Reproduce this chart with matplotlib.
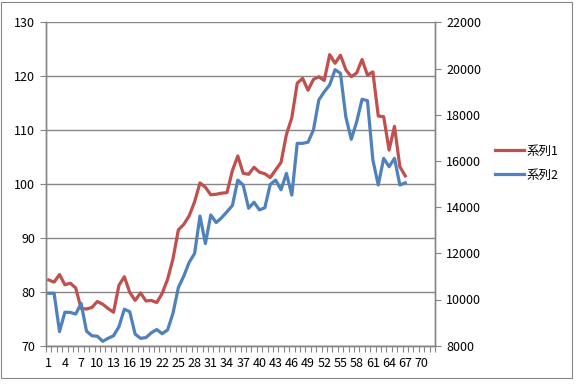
import matplotlib
matplotlib.use("Agg")
import matplotlib.pyplot as plt
from matplotlib.patches import Rectangle
from matplotlib.ticker import FixedLocator, MultipleLocator

plt.rcParams['font.family'] = ['Noto Sans CJK JP', 'DejaVu Sans']

series1_name = "系列1"
series2_name = "系列2"

series1 = [82.2, 81.8, 83.2, 81.3, 81.6, 80.7, 76.9, 76.8, 77.1, 78.2,
           77.7, 76.9, 76.2, 81.2, 82.8, 79.9, 78.4, 79.8, 78.3, 78.4,
           78.0, 79.7, 82.3, 86.1, 91.5, 92.5, 94.1, 96.7, 100.2, 99.4,
           98.0, 98.1, 98.3, 98.4, 102.5, 105.2, 102.0, 101.8, 103.1, 102.2,
           101.9, 101.2, 102.6, 104.0, 109.2, 112.3, 118.7, 119.6, 117.4, 119.4,
           119.9, 119.2, 124.0, 122.4, 123.9, 121.2, 119.9, 120.6, 123.1, 120.2,
           120.8, 112.6, 112.5, 106.3, 110.7, 103.2, 101.5]

series2 = [10270, 10270, 8610, 9450, 9440, 9370, 9830, 8630, 8430, 8410,
           8190, 8320, 8430, 8820, 9580, 9470, 8500, 8320, 8350, 8560,
           8700, 8520, 8680, 9400, 10520, 11010, 11610, 11990, 13615, 12420,
           13660, 13330, 13540, 13800, 14070, 15170, 14950, 13950, 14210, 13880,
           13970, 14980, 15170, 14750, 15460, 14520, 16760, 16760, 16810, 17340,
           18640, 18990, 19290, 19950, 19790, 17900, 16935, 17690, 18667, 18606,
           16040, 14957, 16110, 15750, 16110, 14957, 15050]

n_categories = 72
x_labels = list(range(1, 71, 3))
left_ticks = [70, 80, 90, 100, 110, 120, 130]
right_ticks = [8000, 10000, 12000, 14000, 16000, 18000, 20000, 22000]

x = list(range(1, len(series1) + 1))

grey = '#868686'
red = '#C0504D'
blue = '#4F81BD'

fig = plt.figure(figsize=(5.8, 3.84), dpi=100)
ax = fig.add_axes([46/580, (384-345.7)/384, (435-46)/580, (345.7-22.3)/384])
ax2 = ax.twinx()

l1, = ax.plot(x, series1, color=red, lw=2.3, solid_joinstyle='round', label=series1_name, zorder=3)
l2, = ax2.plot(x, series2, color=blue, lw=2.3, solid_joinstyle='round', label=series2_name, zorder=3)

ax.set_xlim(0.5, n_categories + 0.5)
ax.set_ylim(70, 130)
ax2.set_ylim(8000, 22000)

ax.set_yticks(left_ticks)
ax2.set_yticks(right_ticks)
ax.xaxis.set_major_locator(FixedLocator(x_labels))
ax.set_xticklabels([str(v) for v in x_labels])
ax.xaxis.set_minor_locator(MultipleLocator(1, offset=0.5))
ax.tick_params(axis='x', which='major', length=0, pad=8, labelsize=9)
ax.tick_params(axis='x', which='minor', length=4, color=grey, width=0.8, direction='out')
ax.tick_params(axis='y', length=4, color=grey, width=0.8, labelsize=9, pad=4)
ax2.tick_params(axis='y', length=4, color=grey, width=0.8, labelsize=9, pad=4)

ax.grid(axis='y', color=grey, lw=1.0)
ax.set_axisbelow(True)
for a in (ax, ax2):
    for s in ['left', 'right', 'bottom']:
        a.spines[s].set_color(grey)
        a.spines[s].set_linewidth(1.0)
    a.spines['top'].set_visible(False)

fig.legend([l1, l2], [series1_name, series2_name], loc='center left',
           bbox_to_anchor=(0.845, 0.575), frameon=False, fontsize=9,
           handlelength=2.3, handletextpad=0.2, labelspacing=0.9, borderaxespad=0)

fig.patches.append(Rectangle((0.002, 0.016), 0.984, 0.98, transform=fig.transFigure,
                             fill=False, edgecolor=grey, lw=0.8))

fig.savefig("out.png", dpi=100)
